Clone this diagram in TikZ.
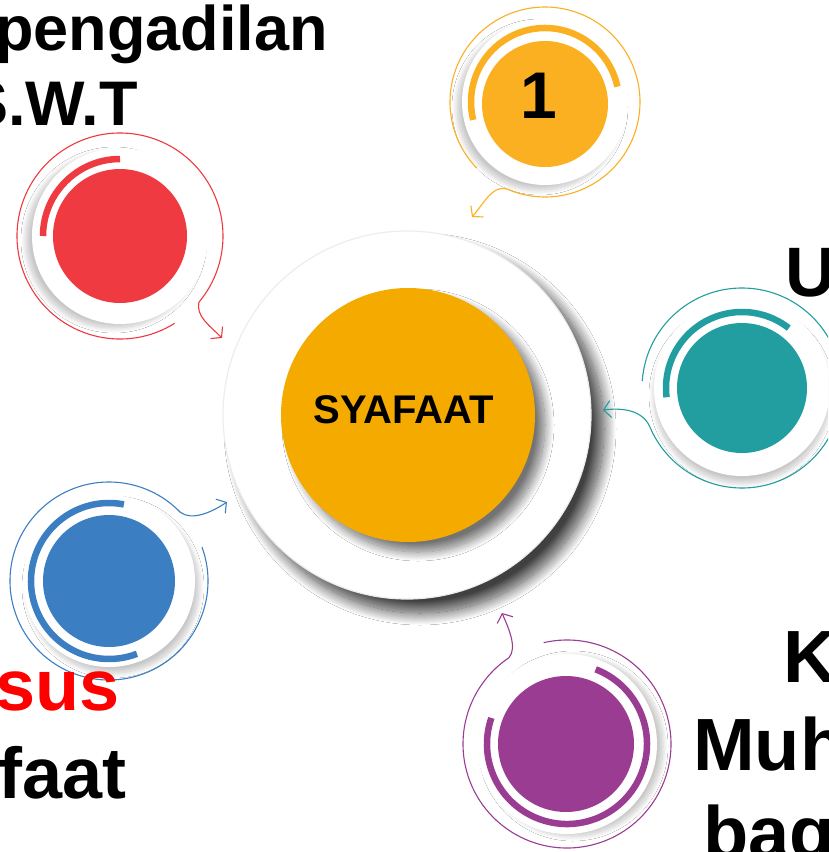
\documentclass[tikz,border=0pt]{standalone}
\usepackage{fontspec}
\setmainfont{Liberation Sans}
\usetikzlibrary{arrows.meta,shadows.blur,calc}
\definecolor{cYel}{HTML}{FBB021}
\definecolor{cRed}{HTML}{EE3A40}
\definecolor{cTeal}{HTML}{229EA0}
\definecolor{cBlue}{HTML}{3B7FC2}
\definecolor{cPur}{HTML}{9A3D92}
\definecolor{cOrg}{HTML}{F5AA00}
\begin{document}
\begin{tikzpicture}[x=1pt,y=-1pt,
  disc/.style={circle,inner sep=0pt,fill=white,minimum size=#1},
  dot/.style 2 args={circle,inner sep=0pt,fill=#1,minimum size=#2},
  band/.style={line width=6.5pt,line cap=butt,draw=#1},
  ring/.style={line width=1.1pt,draw=#1,-{Straight Barb[length=7pt,width=17pt,line width=1.1pt]}},
  bigtxt/.style={font=\bfseries\fontsize{#1}{#1}\selectfont,inner sep=0pt},
  sshadow/.style 2 args={blur shadow={shadow xshift=#1pt,shadow yshift=#2pt,shadow blur radius=5pt,shadow blur steps=12,shadow opacity=22}},
]
\useasboundingbox (0,0) rectangle (828,852);
\clip (0,0) rectangle (828,852);
\fill[white] (0,0) rectangle (828,852);

% centre
\node[disc=368pt,draw=black!7,line width=1.2pt,blur shadow={shadow xshift=13pt,shadow yshift=-14pt,shadow blur radius=12pt,shadow blur steps=24,shadow opacity=75}] (cw) at (407,415) {};
\node[dot={cOrg}{254pt},blur shadow={shadow xshift=10pt,shadow yshift=-10pt,shadow blur radius=9pt,shadow blur steps=16,shadow opacity=55}] (co) at (408,415) {};
\node[bigtxt=40] (ct) at (404,410) {SYAFAAT};

% tips
\coordinate (ytip) at (472,217);
\coordinate (rtip) at (222,338);
\coordinate (ttip) at (603,410);
\coordinate (btip) at (227,502);
\coordinate (ptip) at (502,613);

% yellow
\coordinate (Y) at (545,102);
\node[disc=166pt,sshadow={-5}{-5}] (yw) at (Y) {};
\node[dot={cYel}{126pt}] (yd) at (545,104) {};
\draw[band=cYel] ($(Y)+(-12:74)$) arc[start angle=-12,end angle=-194,radius=74];
\draw[ring=cYel] ($(Y)+(-224:95)$) arc[start angle=-224,end angle=114,radius=95]
  .. controls +(-14,-4) and +(10,-11) .. (ytip);
\node[bigtxt=66] (yt) at (539,96) {1};

% red
\coordinate (R) at (120,236);
\node[disc=176pt,sshadow={-6}{-4}] (rw) at (R) {};
\node[dot={cRed}{134pt}] (rd) at (R) {};
\draw[band=cRed] ($(R)+(-90:77)$) arc[start angle=-90,end angle=-180,radius=77];
\draw[ring=cRed] ($(R)+(-302:103)$) arc[start angle=-302,end angle=40,radius=103]
  .. controls +(-3,14) and +(-13,-13) .. (rtip);

% teal
\coordinate (T) at (742,388);
\node[disc=176pt,sshadow={0}{-7}] (tw) at (T) {};
\node[dot={cTeal}{130pt}] (td) at (T) {};
\draw[band=cTeal] ($(T)+(-52:76)$) arc[start angle=-52,end angle=-187,radius=76];
\draw[ring=cTeal] ($(T)+(-176:100)$) arc[start angle=-176,end angle=156,radius=100]
  .. controls +(-6,-16) and +(25,-3) .. (ttip);

% blue
\coordinate (B) at (109,581);
\node[disc=172pt,sshadow={4}{-6}] (bw) at (B) {};
\node[dot={cBlue}{132pt}] (bd) at (B) {};
\draw[band=cBlue] ($(B)+(-79:78)$) arc[start angle=-79,end angle=-291,radius=78];
\draw[ring=cBlue] ($(B)+(-20:99)$) arc[start angle=-20,end angle=316,radius=99]
  .. controls +(12,9) and +(-15,10) .. (btip);

% purple
\coordinate (P) at (567,744);
\node[disc=180pt,sshadow={6}{-2}] (pw) at (P) {};
\node[dot={cPur}{136pt}] (pd) at (566,744) {};
\draw[band=cPur] ($(P)+(-161:80)$) arc[start angle=-161,end angle=-429,radius=80];
\draw[ring=cPur] ($(P)+(-103:104)$) arc[start angle=-103,end angle=236,radius=104]
  .. controls +(9,-10) and +(6,14) .. (ptip);

% texts
\node[bigtxt=63,anchor=base east] (t1) at (328,50) {pengadilan};
\node[bigtxt=63,anchor=base east] (t2) at (138,125) {S.W.T};
\node[bigtxt=72,anchor=base east,text=red] (t3) at (120,710) {sus};
\node[bigtxt=72,anchor=base east] (t4) at (127,798) {faat};
\node[bigtxt=70,anchor=base west] (t5) at (785,296) {U};
\node[bigtxt=74,anchor=base west] (t6) at (783,682) {K};
\node[bigtxt=74,anchor=base west] (t7) at (693,770) {Muh};
\node[bigtxt=74,anchor=base west] (t8) at (703,858) {bag};
\end{tikzpicture}
\end{document}
